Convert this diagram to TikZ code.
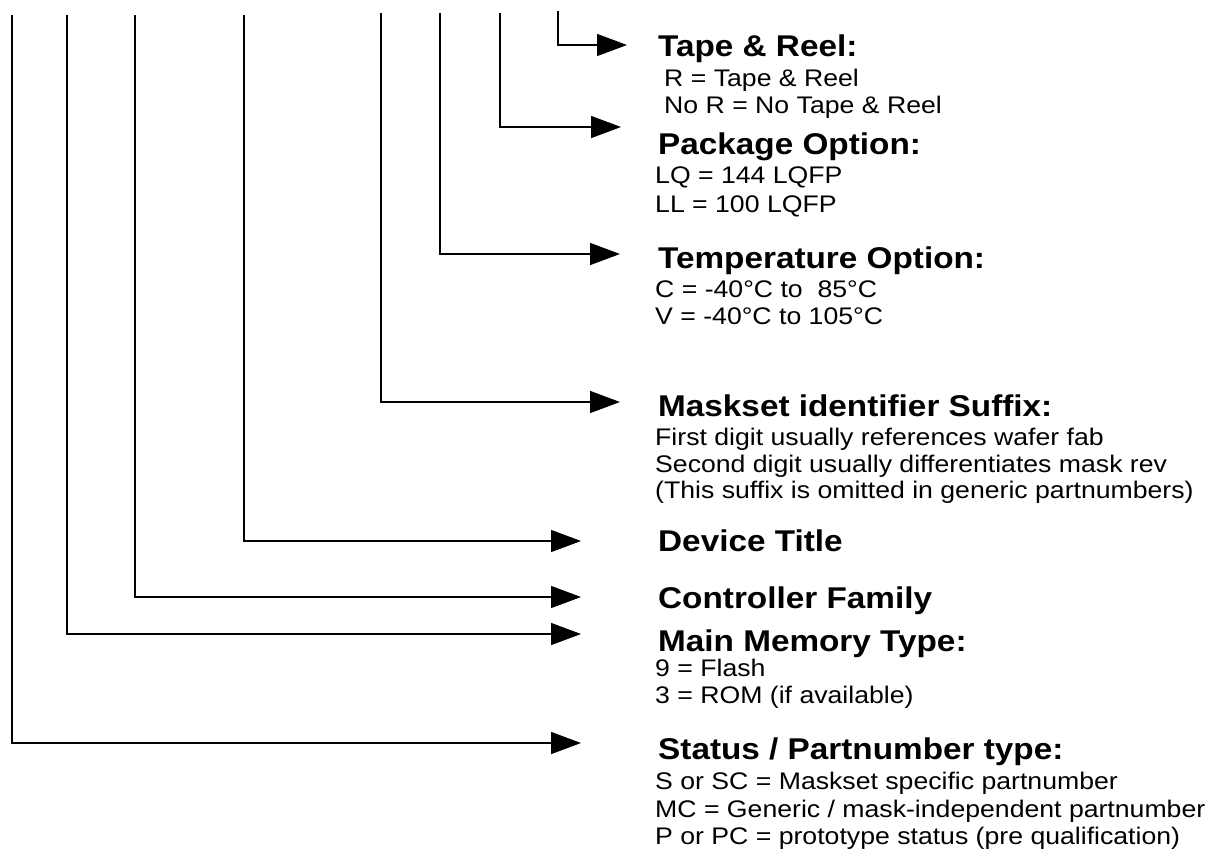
\documentclass[tikz,border=0pt]{standalone}
\usepackage{fontspec}
\setmainfont{Liberation Sans}[FakeStretch=1.11]
\usetikzlibrary{arrows.meta}

\begin{document}
\begin{tikzpicture}[x=1pt, y=-1pt,
  title/.style={anchor=base west, inner sep=0pt, font=\fontsize{30}{34}\selectfont\bfseries},
  info/.style={anchor=north west, inner sep=0pt, align=left,
               font=\fontsize{24}{26.5}\selectfont},
  arrow/.style={-{Triangle[length=30pt,width=22pt]}, line width=1.5pt}
]
\useasboundingbox (0,0) rectangle (1211,860);

% field titles
\node[title] (tape)    at (658,56)  {Tape \& Reel:};
\node[title] (package) at (658,154) {Package Option:};
\node[title] (temp)    at (658,268) {Temperature Option:};
\node[title] (mask)    at (658,416) {Maskset identifier Suffix:};
\node[title] (device)  at (658,551) {Device Title};
\node[title] (family)  at (658,608) {Controller Family};
\node[title] (memory)  at (658,651) {Main Memory Type:};
\node[title] (status)  at (658,759) {Status / Partnumber type:};

% field values
\node[info] (tapeinfo)   at (664,69)  {R = Tape \& Reel\\No R = No Tape \& Reel};
\node[info] (pkginfo)    at (655,167) {LQ = 144 LQFP\\[2.5pt]LL = 100 LQFP};
\node[info] (tempinfo)   at (655,281) {C = -40\textdegree C to\ \ 85\textdegree C\\V = -40\textdegree C to 105\textdegree C};
\node[info] (maskinfo)   at (655,428) {First digit usually references wafer fab\\Second digit usually differentiates mask rev\\(This suffix is omitted in generic partnumbers)};
\node[info] (memoryinfo) at (655,659) {9 = Flash\\3 = ROM (if available)};
\node[info] (statusinfo) at (655,772) {S or SC = Maskset specific partnumber\\[1pt]MC = Generic / mask-independent partnumber\\[1pt]P or PC = prototype status (pre qualification)};

% digit positions
\coordinate (dstatus)  at (12,15);
\coordinate (dmemory)  at (67,15);
\coordinate (dfamily)  at (135,15);
\coordinate (ddevice)  at (244,15);
\coordinate (dmask)    at (381,13);
\coordinate (dtemp)    at (440,13);
\coordinate (dpackage) at (500,13);
\coordinate (dtape)    at (558,11);

\draw[arrow] (dtape)    |- ([xshift=-31pt]tape.west |- 0,45);
\draw[arrow] (dpackage) |- ([xshift=-37pt]package.west |- 0,127);
\draw[arrow] (dtemp)    |- ([xshift=-38pt]temp.west |- 0,254);
\draw[arrow] (dmask)    |- ([xshift=-38pt]mask.west |- 0,402);
\draw[arrow] (ddevice)  |- ([xshift=-77pt]device.west |- 0,541);
\draw[arrow] (dfamily)  |- ([xshift=-77pt]family.west |- 0,597);
\draw[arrow] (dmemory)  |- ([xshift=-77pt]memory.west |- 0,634);
\draw[arrow] (dstatus)  |- ([xshift=-77pt]status.west |- 0,743);
\end{tikzpicture}
\end{document}
